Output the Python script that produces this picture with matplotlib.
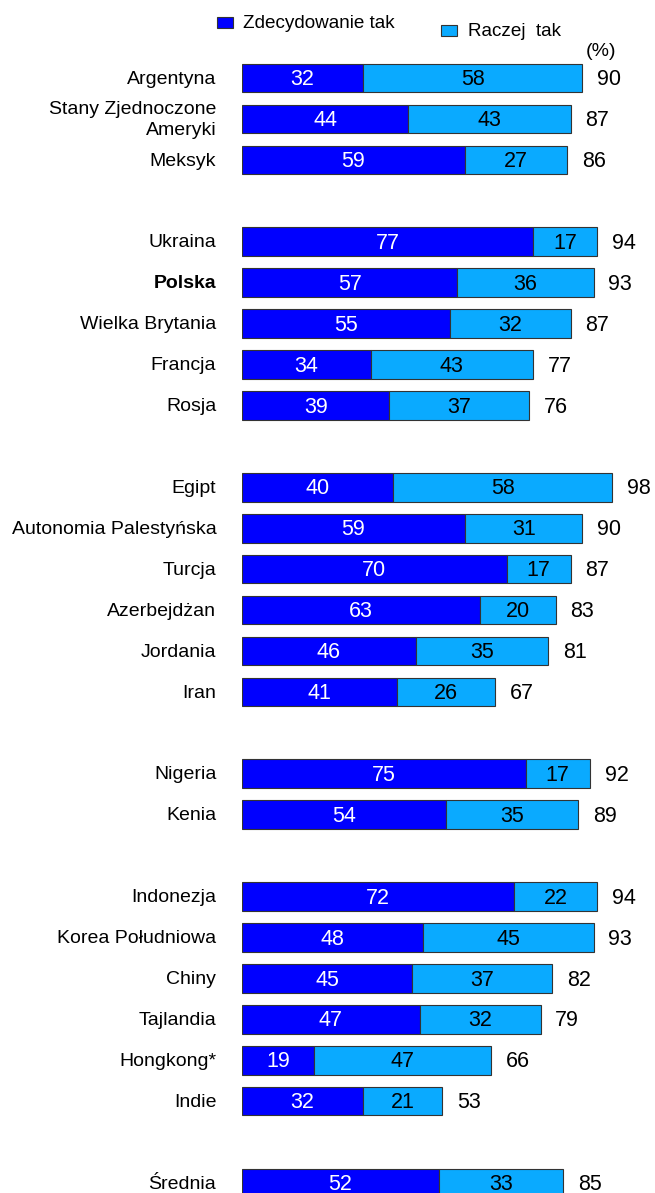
import matplotlib.pyplot as plt
from matplotlib.patches import Rectangle

plt.rcParams['font.family'] = ['Liberation Sans', 'DejaVu Sans']

# dane (w procentach)
kraje = ['Argentyna', 'Stany Zjednoczone\nAmeryki', 'Meksyk', None,
         'Ukraina', 'Polska', 'Wielka Brytania', 'Francja', 'Rosja', None,
         'Egipt', 'Autonomia Palestyńska', 'Turcja', 'Azerbejdżan', 'Jordania', 'Iran', None,
         'Nigeria', 'Kenia', None,
         'Indonezja', 'Korea Południowa', 'Chiny', 'Tajlandia', 'Hongkong*', 'Indie', None,
         'Średnia']
zdecydowanie = [32, 44, 59, None, 77, 57, 55, 34, 39, None,
                40, 59, 70, 63, 46, 41, None, 75, 54, None,
                72, 48, 45, 47, 19, 32, None, 52]
raczej = [58, 43, 27, None, 17, 36, 32, 43, 37, None,
          58, 31, 17, 20, 35, 26, None, 17, 35, None,
          22, 45, 37, 32, 47, 21, None, 33]
razem = [90, 87, 86, None, 94, 93, 87, 77, 76, None,
         98, 90, 87, 83, 81, 67, None, 92, 89, None,
         94, 93, 82, 79, 66, 53, None, 85]

c_dark = '#0000FF'
c_light = '#0AAAFF'

fig = plt.figure(figsize=(6.55, 11.93), dpi=100)
ax = fig.add_axes([242 / 655, 0, 1 - 242 / 655, 1])
ax.set_xlim(0, 413 / 3.78)
ax.set_ylim(27 + 10 / 40.93, -78 / 40.93)
ax.axis('off')

for i, (k, a, b, t) in enumerate(zip(kraje, zdecydowanie, raczej, razem)):
    if k is None:
        continue
    ax.barh(i, a, height=0.7, color=c_dark, edgecolor='#333333', lw=0.8)
    ax.barh(i, b, left=a, height=0.7, color=c_light, edgecolor='#333333', lw=0.8)
    ax.text(a / 2, i + 0.04, str(a), ha='center', va='center', color='white', fontsize=15.5)
    ax.text(a + b / 2, i + 0.04, str(b), ha='center', va='center', color='black', fontsize=15.5)
    ax.text(t + 3.9, i + 0.04, str(t), ha='left', va='center', color='black', fontsize=15.5)
    ax.text(-6.8, i + 0.03, k, ha='right', va='center', fontsize=14,
            fontweight='bold' if k == 'Polska' else 'normal', linespacing=1.3)

# legenda
W, H = 655, 1193
fig.patches.append(Rectangle((217 / W, 1 - 28 / H), 16 / W, 11 / H, transform=fig.transFigure,
                             facecolor=c_dark, edgecolor='#333333', lw=0.8))
fig.text(243 / W, 1 - 24 / H, 'Zdecydowanie tak', ha='left', va='center', fontsize=13.6)
fig.patches.append(Rectangle((441 / W, 1 - 36 / H), 16 / W, 11 / H, transform=fig.transFigure,
                             facecolor=c_light, edgecolor='#333333', lw=0.8))
fig.text(468 / W, 1 - 32 / H, 'Raczej  tak', ha='left', va='center', fontsize=13.6)
fig.text(601 / W, 1 - 52 / H, '(%)', ha='center', va='center', fontsize=14)

fig.savefig('out.png', dpi=100)
